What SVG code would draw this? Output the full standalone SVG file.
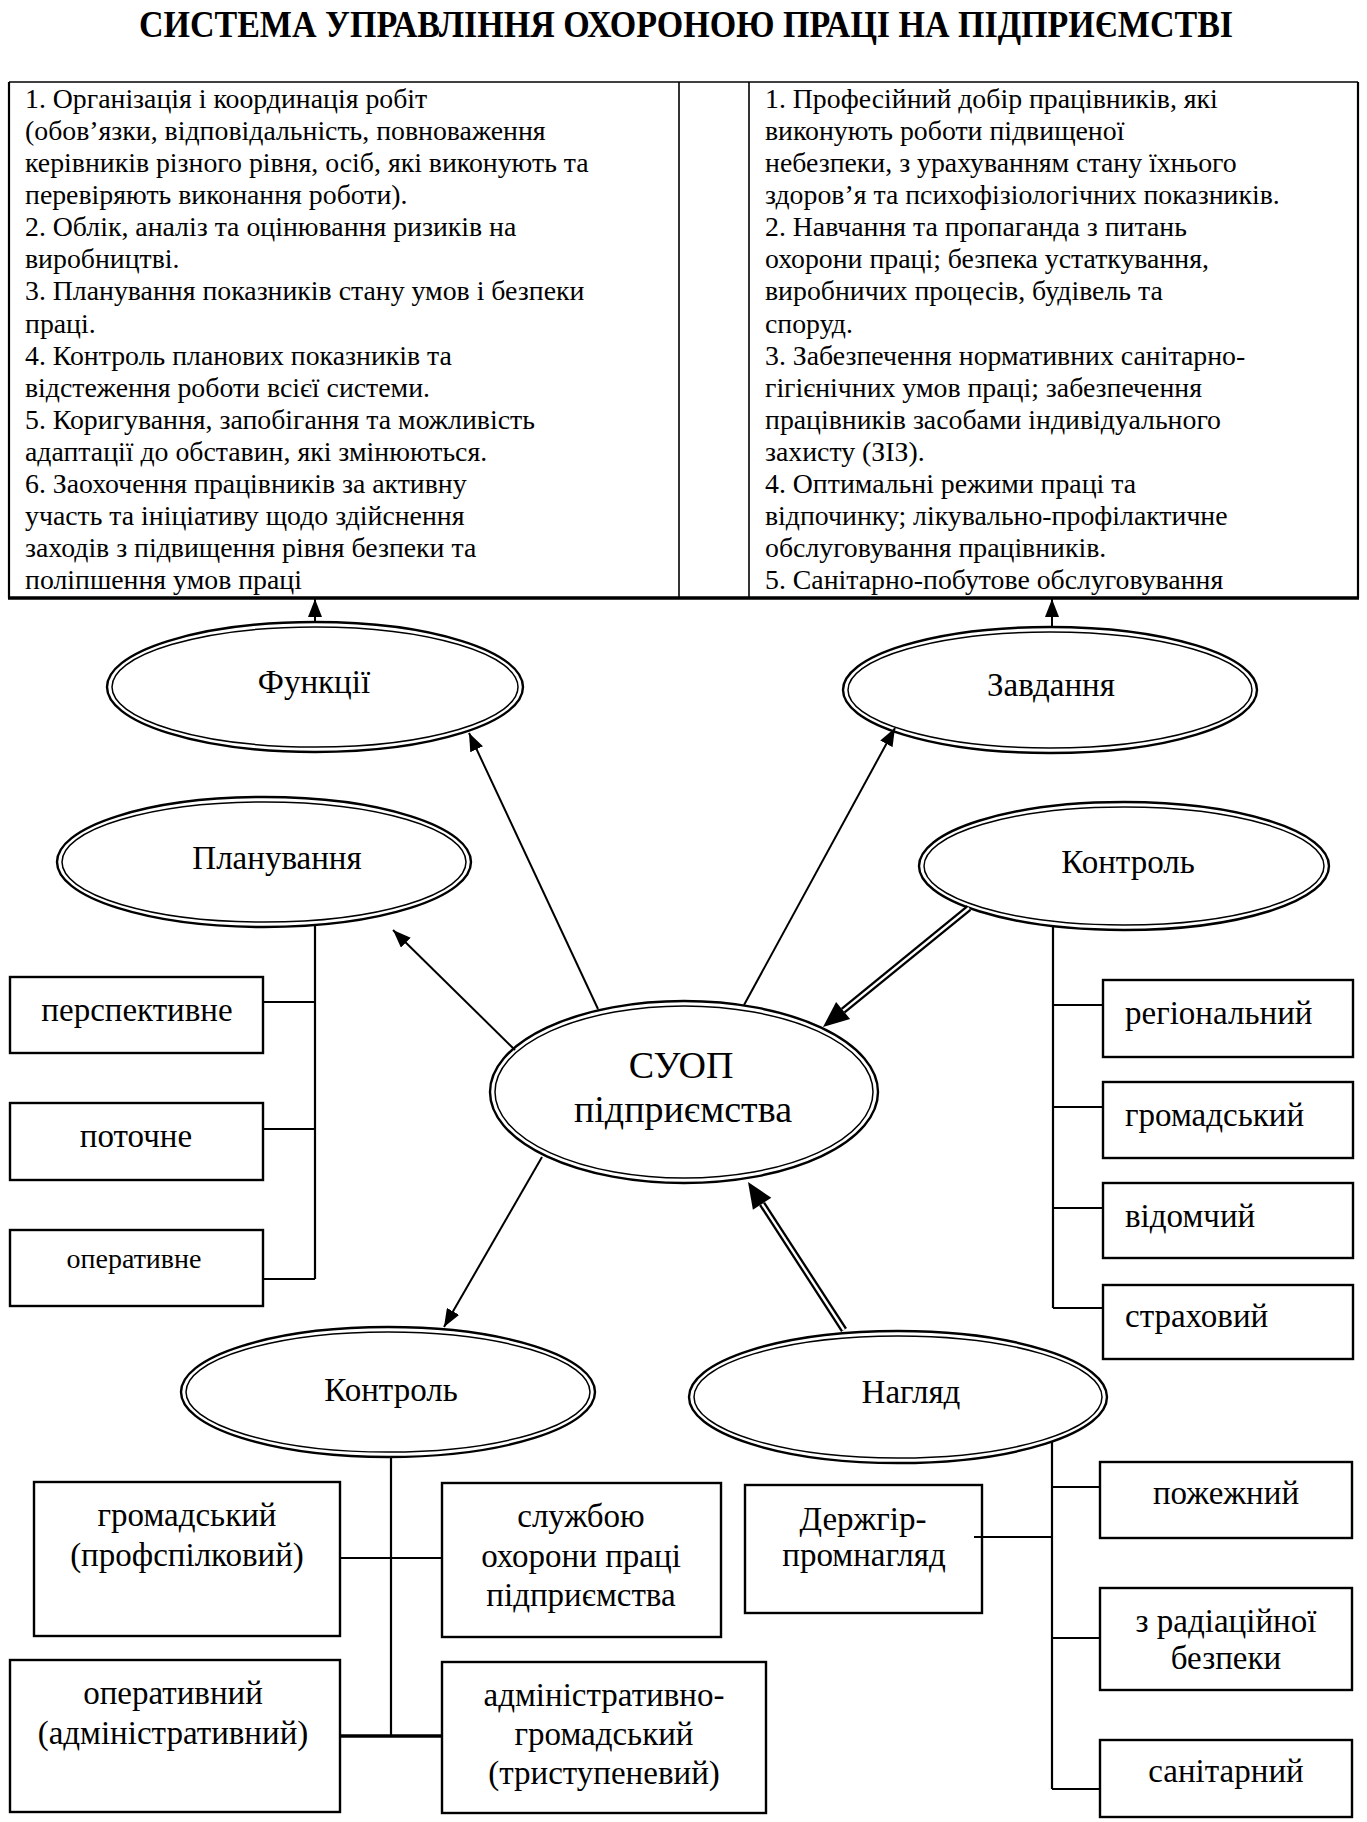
<svg xmlns="http://www.w3.org/2000/svg" width="1367" height="1822" viewBox="0 0 1367 1822">
<defs>
<style>
text{font-family:"Liberation Serif","Times New Roman",serif;fill:#000}
.title{font-size:39px;font-weight:bold}
.tb{font-size:27.8px}
.lbl{font-size:33px;text-anchor:middle}
.lbs{font-size:33px}
.big{font-size:38px;text-anchor:middle}
.eo{fill:#fff;stroke:#000;stroke-width:2.4}
.ei{fill:none;stroke:#000;stroke-width:1.5}
.box{fill:#fff;stroke:#000;stroke-width:2.4}
.ln{fill:none;stroke:#000;stroke-width:2.2}
.arr{fill:none;stroke:#000;stroke-width:2;marker-end:url(#ah)}
.dbo{fill:none;stroke:#000;stroke-width:7}
.dbi{fill:none;stroke:#fff;stroke-width:2.4}
</style>
<marker id="ah" markerUnits="userSpaceOnUse" markerWidth="18" markerHeight="14" refX="18" refY="7" orient="auto">
<path d="M0,0 L18,7 L0,14 z" fill="#000"/>
</marker>
</defs>
<rect width="1367" height="1822" fill="#fff"/>
<text class="title" transform="translate(686,37) scale(0.872,1)" x="0" y="0" text-anchor="middle">СИСТЕМА УПРАВЛІННЯ ОХОРОНОЮ ПРАЦІ НА ПІДПРИЄМСТВІ</text>

<g id="table">
<line x1="9" y1="82" x2="1358" y2="82" stroke="#000" stroke-width="1.6"/>
<line x1="9" y1="82" x2="9" y2="598" stroke="#000" stroke-width="2.2"/>
<line x1="1358" y1="82" x2="1358" y2="598" stroke="#000" stroke-width="2.2"/>
<line x1="679" y1="82" x2="679" y2="598" stroke="#000" stroke-width="1.6"/>
<line x1="749" y1="82" x2="749" y2="598" stroke="#000" stroke-width="1.6"/>
<line x1="8" y1="598" x2="1359" y2="598" stroke="#000" stroke-width="3.6"/>
<text class="tb">
<tspan x="25" y="108">1. Організація і координація робіт</tspan>
<tspan x="25" y="140.1">(обов’язки, відповідальність, повноваження</tspan>
<tspan x="25" y="172.1">керівників різного рівня, осіб, які виконують та</tspan>
<tspan x="25" y="204.2">перевіряють виконання роботи).</tspan>
<tspan x="25" y="236.3">2. Облік, аналіз та оцінювання ризиків на</tspan>
<tspan x="25" y="268.4">виробництві.</tspan>
<tspan x="25" y="300.4">3. Планування показників стану умов і безпеки</tspan>
<tspan x="25" y="332.5">праці.</tspan>
<tspan x="25" y="364.6">4. Контроль планових показників та</tspan>
<tspan x="25" y="396.6">відстеження роботи всієї системи.</tspan>
<tspan x="25" y="428.7">5. Коригування, запобігання та можливість</tspan>
<tspan x="25" y="460.8">адаптації до обставин, які змінюються.</tspan>
<tspan x="25" y="492.8">6. Заохочення працівників за активну</tspan>
<tspan x="25" y="524.9">участь та ініціативу щодо здійснення</tspan>
<tspan x="25" y="557">заходів з підвищення рівня безпеки та</tspan>
<tspan x="25" y="589">поліпшення умов праці</tspan>
</text>
<text class="tb">
<tspan x="765" y="108">1. Професійний добір працівників, які</tspan>
<tspan x="765" y="140.1">виконують роботи підвищеної</tspan>
<tspan x="765" y="172.1">небезпеки, з урахуванням стану їхнього</tspan>
<tspan x="765" y="204.2">здоров’я та психофізіологічних показників.</tspan>
<tspan x="765" y="236.3">2. Навчання та пропаганда з питань</tspan>
<tspan x="765" y="268.4">охорони праці; безпека устаткування,</tspan>
<tspan x="765" y="300.4">виробничих процесів, будівель та</tspan>
<tspan x="765" y="332.5">споруд.</tspan>
<tspan x="765" y="364.6">3. Забезпечення нормативних санітарно-</tspan>
<tspan x="765" y="396.6">гігієнічних умов праці; забезпечення</tspan>
<tspan x="765" y="428.7">працівників засобами індивідуального</tspan>
<tspan x="765" y="460.8">захисту (ЗІЗ).</tspan>
<tspan x="765" y="492.8">4. Оптимальні режими праці та</tspan>
<tspan x="765" y="524.9">відпочинку; лікувально-профілактичне</tspan>
<tspan x="765" y="557">обслуговування працівників.</tspan>
<tspan x="765" y="589">5. Санітарно-побутове обслуговування</tspan>
</text>
</g>

<g id="n-funktsii">
<ellipse class="eo" cx="315" cy="687" rx="208" ry="65"/>
<ellipse class="ei" cx="315" cy="687" rx="203" ry="60"/>
<text class="lbl" x="314" y="693">Функції</text>
</g>
<g id="n-zavdannia">
<ellipse class="eo" cx="1050" cy="690" rx="207" ry="63"/>
<ellipse class="ei" cx="1050" cy="690" rx="202" ry="58"/>
<text class="lbl" x="1051" y="696">Завдання</text>
</g>
<g id="n-planuvannia">
<ellipse class="eo" cx="264" cy="862" rx="207" ry="65"/>
<ellipse class="ei" cx="264" cy="862" rx="202" ry="60"/>
<text class="lbl" x="277" y="869">Планування</text>
</g>
<g id="n-kontrol-r">
<ellipse class="eo" cx="1124" cy="866" rx="205" ry="64"/>
<ellipse class="ei" cx="1124" cy="866" rx="200" ry="59"/>
<text class="lbl" x="1128" y="873">Контроль</text>
</g>
<g id="n-suop">
<ellipse class="eo" cx="684" cy="1092" rx="194" ry="91"/>
<ellipse class="ei" cx="684" cy="1092" rx="189" ry="86"/>
<text class="big" x="681" y="1078">СУОП</text>
<text class="big" x="683" y="1122">підприємства</text>
</g>
<g id="n-kontrol-b">
<ellipse class="eo" cx="388" cy="1392" rx="207" ry="65"/>
<ellipse class="ei" cx="388" cy="1392" rx="202" ry="60"/>
<text class="lbl" x="391" y="1401">Контроль</text>
</g>
<g id="n-nahliad">
<ellipse class="eo" cx="898" cy="1397" rx="209" ry="66"/>
<ellipse class="ei" cx="898" cy="1397" rx="204" ry="61"/>
<text class="lbl" x="911" y="1403">Нагляд</text>
</g>

<g id="n-perspektyvne"><rect class="box" x="10" y="977" width="253" height="76"/><text class="lbl" x="137" y="1021">перспективне</text></g>
<g id="n-potochne"><rect class="box" x="10" y="1103" width="253" height="77"/><text class="lbl" x="136" y="1147">поточне</text></g>
<g id="n-operatyvne"><rect class="box" x="10" y="1230" width="253" height="76"/><text class="lbl" x="134" y="1268" style="font-size:28px">оперативне</text></g>

<g id="n-rehionalnyi"><rect class="box" x="1103" y="980" width="250" height="77"/><text class="lbs" x="1125" y="1024">регіональний</text></g>
<g id="n-hromadskyi-r"><rect class="box" x="1103" y="1082" width="250" height="76"/><text class="lbs" x="1125" y="1126">громадський</text></g>
<g id="n-vidomchyi"><rect class="box" x="1103" y="1183" width="250" height="75"/><text class="lbs" x="1125" y="1227">відомчий</text></g>
<g id="n-strakhovyi"><rect class="box" x="1103" y="1285" width="250" height="74"/><text class="lbs" x="1125" y="1327">страховий</text></g>

<g id="n-hromadskyi-b"><rect class="box" x="34" y="1482" width="306" height="154"/><text class="lbl" x="187" y="1526">громадський</text><text class="lbl" x="187" y="1566">(профспілковий)</text></g>
<g id="n-sluzhboiu"><rect class="box" x="442" y="1483" width="279" height="154"/><text class="lbl" x="581" y="1527">службою</text><text class="lbl" x="581" y="1567">охорони праці</text><text class="lbl" x="581" y="1606">підприємства</text></g>
<g id="n-operatyvnyi"><rect class="box" x="10" y="1660" width="330" height="152"/><text class="lbl" x="173" y="1704">оперативний</text><text class="lbl" x="173" y="1744">(адміністративний)</text></g>
<g id="n-admin-hrom"><rect class="box" x="442" y="1662" width="324" height="151"/><text class="lbl" x="604" y="1706">адміністративно-</text><text class="lbl" x="604" y="1745">громадський</text><text class="lbl" x="604" y="1784">(триступеневий)</text></g>

<g id="n-derzhhirpromnahliad"><rect class="box" x="745" y="1485" width="237" height="128"/><text class="lbl" x="863" y="1530">Держгір-</text><text class="lbl" x="864" y="1566">промнагляд</text></g>
<g id="n-pozhezhnyi"><rect class="box" x="1100" y="1462" width="252" height="76"/><text class="lbl" x="1226" y="1504">пожежний</text></g>
<g id="n-radiatsiinoi"><rect class="box" x="1100" y="1588" width="252" height="102"/><text class="lbl" x="1226" y="1632">з радіаційної</text><text class="lbl" x="1226" y="1669">безпеки</text></g>
<g id="n-sanitarnyi"><rect class="box" x="1100" y="1740" width="252" height="77"/><text class="lbl" x="1226" y="1782">санітарний</text></g>

<g id="connectors">
<line class="arr" x1="315" y1="622" x2="315" y2="599"/>
<line class="arr" x1="1052" y1="627" x2="1052" y2="599"/>
<line class="arr" x1="598" y1="1009" x2="469" y2="733"/>
<line class="arr" x1="515" y1="1050" x2="393" y2="930"/>
<line class="arr" x1="744" y1="1005" x2="895" y2="728"/>
<line class="arr" x1="542" y1="1157" x2="444" y2="1327"/>
<path class="dbo" d="M969,908 L843.1,1010.6"/>
<path class="dbi" d="M969,908 L843.1,1010.6"/>
<polygon points="823,1027 850.1,1019.1 836.1,1002.1" fill="#000"/>
<path class="dbo" d="M844,1330 L762.1,1203.8"/>
<path class="dbi" d="M844,1330 L762.1,1203.8"/>
<polygon points="748,1182 771.3,1197.8 752.9,1209.8" fill="#000"/>
<path class="ln" d="M315,925 V1279 M263,1002 H315 M263,1129 H315 M263,1279 H315"/>
<path class="ln" d="M1053,926 V1308 M1053,1005 H1103 M1053,1107 H1103 M1053,1208 H1103 M1053,1308 H1103"/>
<path class="ln" d="M391,1457 V1736 M340,1558 H442"/>
<path d="M340,1736 H442" stroke="#000" stroke-width="3.6" fill="none"/>
<path class="ln" d="M1052,1441 V1789 M1052,1487 H1100 M1052,1638 H1100 M1052,1789 H1100 M974,1537 H1052"/>
</g>
</svg>
